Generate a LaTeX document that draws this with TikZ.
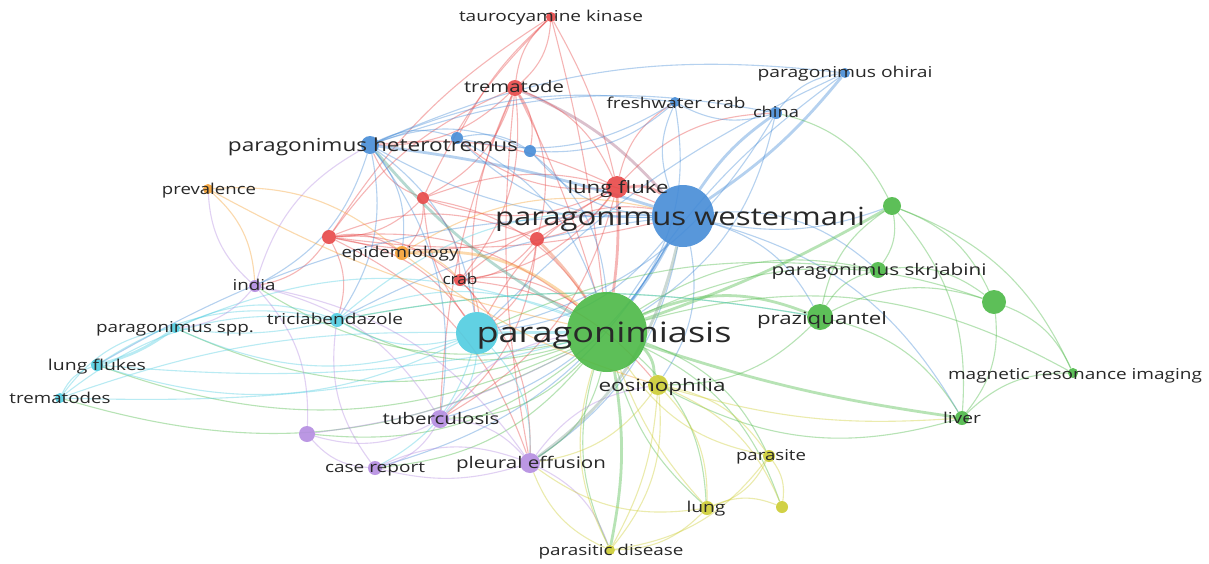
\documentclass[tikz,border=0pt]{standalone}
\usepackage{fontspec}
\setmainfont{Open Sans}
\definecolor{vred}{RGB}{232,72,72}
\definecolor{vblue}{RGB}{70,140,215}
\definecolor{vgreen}{RGB}{76,185,70}
\definecolor{vcyan}{RGB}{80,205,225}
\definecolor{vpurple}{RGB}{180,140,225}
\definecolor{vorange}{RGB}{245,160,50}
\definecolor{vyellow}{RGB}{205,205,50}
\definecolor{txt}{RGB}{40,40,40}
\pgfdeclarelayer{bgl}
\pgfdeclarelayer{edges}
\pgfsetlayers{bgl,edges,main}
\tikzset{
  kw/.style={circle,inner sep=0pt,minimum size=#1,fill opacity=0.9},
  kR/.style={kw=#1,fill=vred},
  kB/.style={kw=#1,fill=vblue},
  kG/.style={kw=#1,fill=vgreen},
  kC/.style={kw=#1,fill=vcyan},
  kP/.style={kw=#1,fill=vpurple},
  kO/.style={kw=#1,fill=vorange},
  kY/.style={kw=#1,fill=vyellow},
  lbl/.style={inner sep=0pt,anchor=base,yshift={-0.37*#1pt},text=txt,font=\fontsize{#1}{#1}\selectfont},
  ed/.style={line width=1.1pt,draw opacity=0.4,bend left=22},
  eR/.style={ed,draw=vred},
  eB/.style={ed,draw=vblue},
  eG/.style={ed,draw=vgreen},
  eC/.style={ed,draw=vcyan},
  eP/.style={ed,draw=vpurple},
  eO/.style={ed,draw=vorange},
  eY/.style={ed,draw=vyellow},
  tk/.style={line width=2.8pt,draw opacity=0.4},
}
\newcommand\wlab[2]{\resizebox{#1pt}{\height}{#2}}
\begin{document}
\begin{tikzpicture}[x=1pt,y=-1pt]
\begin{pgfonlayer}{bgl}
\fill[white] (0,0) rectangle (1209,563);
\end{pgfonlayer}
\useasboundingbox (0,0) rectangle (1209,563);
% nodes
\node[kR=10pt] (tk) at (551,17) {};
\node[kR=16pt] (trd) at (515,88) {};
\node[kR=22pt] (lf) at (617,187) {};
\node[kB=12pt] (b1) at (457,138) {};
\node[kB=12pt] (b2) at (530,151) {};
\node[kB=10pt] (fc) at (675,102) {};
\node[kB=12pt] (ch) at (776,113) {};
\node[kB=10pt] (oh) at (845,73) {};
\node[kG=80pt] (pg) at (607,332) {};
\node[kB=62pt] (pw) at (683,216) {};
\node[kG=18pt] (g1) at (892,206) {};
\node[kB=18pt] (ph) at (370,145) {};
\node[kO=10pt] (prv) at (208,189) {};
\node[kR=12pt] (r1) at (423,198) {};
\node[kR=14pt] (r2) at (329,237) {};
\node[kO=14pt] (epi) at (402,253) {};
\node[kP=12pt] (ind) at (255,286) {};
\node[kR=12pt] (crb) at (460,280) {};
\node[kR=14pt] (r3) at (537,239) {};
\node[kC=42pt] (pc) at (477,333) {};
\node[kG=16pt] (sk) at (878,270) {};
\node[kG=24pt] (g2) at (994,302) {};
\node[kG=26pt] (prz) at (820,317) {};
\node[kG=10pt] (mri) at (1073,373) {};
\node[kG=14pt] (liv) at (962,418) {};
\node[kC=10pt] (psp) at (175,328) {};
\node[kC=14pt] (tcb) at (337,320) {};
\node[kC=12pt] (lfs) at (97,365) {};
\node[kC=10pt] (tms) at (60,398) {};
\node[kP=16pt] (p1) at (307,434) {};
\node[kP=14pt] (cr) at (375,468) {};
\node[kY=20pt] (eos) at (658,385) {};
\node[kP=18pt] (tb) at (440,419) {};
\node[kP=20pt] (pe) at (530,463) {};
\node[kY=12pt] (par) at (769,456) {};
\node[kY=14pt] (lng) at (707,508) {};
\node[kY=12pt] (y1) at (782,507) {};
\node[kY=10pt] (pd) at (610,550) {};
% edges
\begin{pgfonlayer}{edges}
% red
\draw[eR] (tk) to (trd); \draw[eR,bend left=-20] (tk) to (trd);
\draw[eR,bend left=8] (tk) to (lf); \draw[eR,bend left=-10] (tk) to (r1);
\draw[eR,bend left=-12] (tk) to (r2); \draw[eR,bend left=4] (tk) to (pg);
\draw[eR,bend left=-10] (tk) to (b1);
\draw[eR,tk,draw=vred!60!vblue] (trd) to[bend left=12] (pw);
\draw[eR] (trd) to (lf); \draw[eR] (trd) to (r1); \draw[eR,bend left=-15] (trd) to (r2);
\draw[eR] (trd) to (r3); \draw[eR,bend left=5] (trd) to (pg); \draw[eR] (trd) to (crb);
\draw[eR] (trd) to (ph); \draw[eR] (trd) to (b2); \draw[eR,bend left=-8] (trd) to (pe);
\draw[eR,bend left=-10] (trd) to (tb); \draw[eR,bend left=-15] (trd) to (pc);
\draw[eR,tk] (lf) to (pw); \draw[eR,tk,bend left=5] (lf) to (pg);
\draw[eR] (lf) to (r1); \draw[eR] (lf) to (r2); \draw[eR] (lf) to (r3);
\draw[eR,bend left=-15] (lf) to (ph); \draw[eR] (lf) to (b1); \draw[eR] (lf) to (crb);
\draw[eR] (lf) to (fc); \draw[eR] (lf) to (ch); \draw[eR] (lf) to (tb);
\draw[eR,bend left=-15] (lf) to (pc);
\draw[eR] (r1) to (pg); \draw[eR] (r1) to (pw); \draw[eR] (r1) to (r2);
\draw[eR] (r1) to (crb); \draw[eR] (r1) to (ph); \draw[eR] (r1) to (epi);
\draw[eR,bend left=-15] (r1) to (pc);
\draw[eR] (r2) to (epi); \draw[eR] (r2) to (pg); \draw[eR,bend left=-10] (r2) to (pw);
\draw[eR] (r2) to (crb); \draw[eR] (r2) to (tcb); \draw[eR] (r2) to (ind);
\draw[eR] (r2) to (r3); \draw[eR] (r2) to (pe); \draw[eR] (r2) to (pc);
\draw[eR,tk,draw=vred!60!vorange] (r3) to[bend left=5] (pg); \draw[eR] (r3) to (pw);
\draw[eR] (r3) to (crb); \draw[eR] (r3) to (tb); \draw[eR] (r3) to (pc);
\draw[eR] (crb) to (pg); \draw[eR] (crb) to (pw); \draw[eR] (crb) to (pe);
\draw[eR] (crb) to (eos); \draw[eR] (crb) to (pc);
% blue
\draw[eB,tk,bend left=-5] (pw) to (ph); \draw[eB] (pw) to (fc);
\draw[eB,tk,bend left=10] (pw) to (ch); \draw[eB,tk,bend left=-8] (pw) to (oh);
\draw[eB,tk,bend left=5] (pw) to (pg); \draw[eB] (pw) to (prz); \draw[eB] (pw) to (sk);
\draw[eB] (pw) to (pc); \draw[eB] (pw) to (eos); \draw[eB] (pw) to (tb);
\draw[eB] (pw) to (pe); \draw[eB,bend left=-10] (pw) to (tcb); \draw[eB] (pw) to (b1);
\draw[eB] (pw) to (b2); \draw[eB] (pw) to (liv); \draw[eB,bend left=-15] (pw) to (g1);
\draw[eB,bend left=-15] (pw) to (lfs); \draw[eB] (pw) to (cr);
\draw[eB] (ph) to (b1); \draw[eB] (ph) to (b2);
\draw[eB,tk,draw=vblue!50!vgreen,bend left=-10] (ph) to (pg);
\draw[eB] (ph) to (ind); \draw[eB] (ph) to (tcb); \draw[eB] (ph) to (pc);
\draw[eB] (ph) to (tb); \draw[eB,bend left=15] (ph) to (fc); \draw[eB,bend left=15] (ph) to (ch);
\draw[eB] (ph) to (epi); \draw[eB,bend left=-15] (ph) to (pw);
\draw[eB] (ch) to (oh); \draw[eB] (ch) to (pg); \draw[eB] (ch) to (fc);
\draw[eB] (ch) to (pc);
\draw[eB] (fc) to (pg); \draw[eB] (fc) to (b1); \draw[eB] (fc) to (b2);
\draw[eB,bend left=-10] (oh) to (pg); \draw[eB,bend left=-15] (oh) to (ph);
\draw[eB,bend left=-10] (oh) to (pc);
\draw[eB] (b1) to (pg); \draw[eB] (b1) to (b2); \draw[eB] (b2) to (pg);
% green
\draw[eG,tk] (pg) to (prz); \draw[eG] (pg) to (sk);
\draw[eG,tk,bend left=-5] (pg) to (g1); \draw[eG] (pg) to (g2);
\draw[eG,tk,bend left=-5] (pg) to (liv); \draw[eG,tk] (pg) to (eos);
\draw[eG] (pg) to (pe); \draw[eG] (pg) to (tb); \draw[eG] (pg) to (lng);
\draw[eG] (pg) to (par); \draw[eG,tk,bend left=10] (pg) to (pd);
\draw[eG] (pg) to (y1); \draw[eG] (pg) to (tms); \draw[eG] (pg) to (lfs);
\draw[eG] (pg) to (psp); \draw[eG] (pg) to (tcb); \draw[eG] (pg) to (ind);
\draw[eG] (pg) to (cr); \draw[eG] (pg) to (p1); \draw[eG] (pg) to (mri);
\draw[eG,bend left=-20] (pg) to (pd); \draw[eG,bend left=-15] (pg) to (lng);
\draw[eG] (prz) to (g1); \draw[eG] (prz) to (sk); \draw[eG] (prz) to (g2);
\draw[eG,bend left=-10] (prz) to (tcb); \draw[eG] (prz) to (liv); \draw[eG] (prz) to (eos);
\draw[eG] (g1) to (sk); \draw[eG] (g1) to (g2); \draw[eG] (g1) to (liv);
\draw[eG,bend left=-25] (g1) to (ch); \draw[eG] (g1) to (mri);
\draw[eG] (sk) to (g2); \draw[eG] (g2) to (mri); \draw[eG] (g2) to (liv);
\draw[eG] (liv) to (mri); \draw[eG] (liv) to (eos);
\draw[eG,bend left=-15] (sk) to (pc);
% cyan
\draw[eC,bend left=-10] (pc) to (tms); \draw[eC] (pc) to (lfs); \draw[eC] (pc) to (psp);
\draw[eC] (pc) to (tcb); \draw[eC] (pc) to (tb); \draw[eC] (pc) to (pe);
\draw[eC,tk,bend left=0] (pc) to (pg); \draw[eC] (pc) to (cr);
\draw[eC] (tms) to (lfs); \draw[eC] (tms) to (psp);
\draw[eC,bend left=-8] (tms) to (pg); \draw[eC] (tms) to (tcb);
\draw[eC,tk,bend left=-10] (lfs) to (psp); \draw[eC] (lfs) to (tcb);
\draw[eC,bend left=-8] (lfs) to (pg);
\draw[eC] (psp) to (tcb); \draw[eC,bend left=-10] (psp) to (tcb); \draw[eC] (psp) to (pg);
\draw[eC] (tcb) to (pg); \draw[eC] (tcb) to (pw); \draw[eC,bend left=10] (tcb) to (prz);
% purple
\draw[eP] (ind) to (ph); \draw[eP] (ind) to (p1); \draw[eP] (ind) to (tb);
\draw[eP] (ind) to (pe); \draw[eP] (ind) to (psp); \draw[eP] (ind) to (prv);
\draw[eP] (tb) to (cr); \draw[eP] (tb) to (pe); \draw[eP] (tb) to (p1); \draw[eP] (tb) to (pg);
\draw[eP] (cr) to (pe); \draw[eP] (cr) to (p1); \draw[eP,bend left=-15] (cr) to (pe);
\draw[eP] (pe) to (eos); \draw[eP] (pe) to (pd);
\draw[eP,tk,draw=vpurple!50!vgreen,bend left=-20] (pe) to (pw);
\draw[eP,bend left=-10] (p1) to (pg); \draw[eP] (cr) to (tcb);
% orange
\draw[eO,bend left=-8] (prv) to (pg); \draw[eO] (prv) to (epi); \draw[eO] (prv) to (ind);
\draw[eO,tk] (epi) to (pg); \draw[eO] (epi) to (pw); \draw[eO] (epi) to (crb);
\draw[eO,bend left=-10] (epi) to (eos);
% yellow
\draw[eY] (eos) to (lng); \draw[eY] (eos) to (par); \draw[eY] (eos) to (pd);
\draw[eY] (eos) to (y1); \draw[eY] (eos) to (pe); \draw[eY,bend left=-10] (eos) to (liv);
\draw[eY] (par) to (lng); \draw[eY] (par) to (y1); \draw[eY] (par) to (pd);
\draw[eY] (lng) to (pd); \draw[eY] (lng) to (y1); \draw[eY] (lng) to (pe);
\draw[eY] (pd) to (pg); \draw[eY] (pd) to (pe); \draw[eY,bend left=-12] (pd) to (eos);
\draw[eY] (par) to (pg); \draw[eY,bend left=10] (lng) to (pg);
\end{pgfonlayer}
% labels
\node[lbl=15] (ltk) at (551,16) {\wlab{184}{taurocyamine kinase}};
\node[lbl=16] (ltrd) at (514,87) {\wlab{100}{trematode}};
\node[lbl=17] (llf) at (618,187) {\wlab{101}{lung fluke}};
\node[lbl=15] (lfc) at (676,103) {\wlab{139}{freshwater crab}};
\node[lbl=15] (lch) at (776,112) {\wlab{46}{china}};
\node[lbl=15] (loh) at (845,72) {\wlab{175}{paragonimus ohirai}};
\node[lbl=25] (lpw) at (680,216) {\wlab{370}{paragonimus westermani}};
\node[lbl=18] (lph) at (373,145) {\wlab{290}{paragonimus heterotremus}};
\node[lbl=15] (lprv) at (209,189) {\wlab{94}{prevalence}};
\node[lbl=15] (lepi) at (400,252) {\wlab{117}{epidemiology}};
\node[lbl=15] (lind) at (254,285) {\wlab{43}{india}};
\node[lbl=15] (lcrb) at (460,279) {\wlab{35}{crab}};
\node[lbl=16] (lsk) at (879,270) {\wlab{215}{paragonimus skrjabini}};
\node[lbl=15] (lpsp) at (175,327) {\wlab{158}{paragonimus spp.}};
\node[lbl=15] (ltcb) at (335,319) {\wlab{136}{triclabendazole}};
\node[lbl=28] (lpg) at (604,332) {\wlab{255}{paragonimiasis}};
\node[lbl=17] (lprz) at (822,318) {\wlab{130}{praziquantel}};
\node[lbl=15] (llfs) at (97,365) {\wlab{98}{lung flukes}};
\node[lbl=15] (lmri) at (1075,374) {\wlab{254}{magnetic resonance imaging}};
\node[lbl=17] (leos) at (662,385) {\wlab{127}{eosinophilia}};
\node[lbl=15] (ltms) at (60,398) {\wlab{101}{trematodes}};
\node[lbl=15] (lliv) at (962,418) {\wlab{38}{liver}};
\node[lbl=16] (ltb) at (441,419) {\wlab{117}{tuberculosis}};
\node[lbl=15] (lcr) at (375,467) {\wlab{100}{case report}};
\node[lbl=16] (lpe) at (531,463) {\wlab{150}{pleural effusion}};
\node[lbl=15] (lpar) at (771,455) {\wlab{70}{parasite}};
\node[lbl=15] (llng) at (706,507) {\wlab{39}{lung}};
\node[lbl=15] (lpd) at (611,550) {\wlab{145}{parasitic disease}};
\end{tikzpicture}
\end{document}
